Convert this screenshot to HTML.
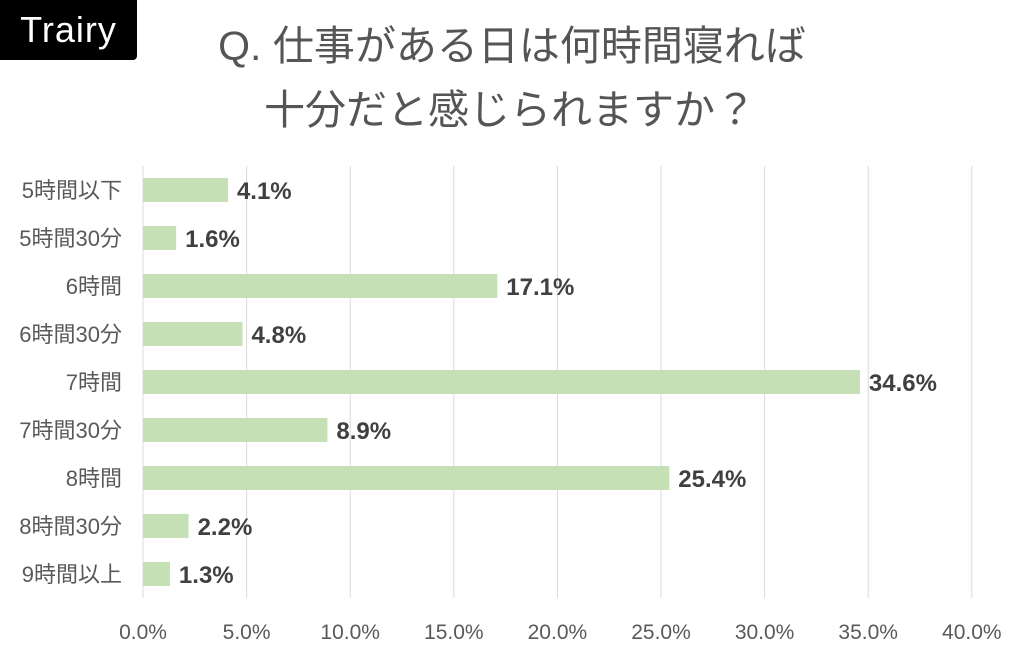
<!DOCTYPE html>
<html><head><meta charset="utf-8">
<style>
body{margin:0;background:#fff;width:1024px;height:657px;overflow:hidden;font-family:"Liberation Sans","Noto Sans CJK JP",sans-serif;}
#logo{position:absolute;left:0;top:0;width:137px;height:60px;background:#000;border-radius:0 0 4px 0;color:#fff;font-size:36px;line-height:60px;text-align:center;letter-spacing:1px;}
.t{position:absolute;left:0;width:1024px;text-align:center;color:#555;font-size:41px;line-height:48px;}
</style></head><body>
<div id="logo">Trairy</div>
<div class="t" style="top:22px;left:0">Q. 仕事がある日は何時間寝れば</div>
<div class="t" style="top:86px;left:-2px">十分だと感じられますか？</div>
<svg id="chart" width="1024" height="657" style="position:absolute;left:0;top:0"></svg>
<script>
const categories=["5時間以下","5時間30分","6時間","6時間30分","7時間","7時間30分","8時間","8時間30分","9時間以上"];
const values=[4.1,1.6,17.1,4.8,34.6,8.9,25.4,2.2,1.3];
const ticks=[0,5,10,15,20,25,30,35,40];
const NS="http://www.w3.org/2000/svg";
const svg=document.getElementById('chart');
const x0=143,pxPer=20.72,yTop=166,yBot=598,rowH=48,barH=24;
function xs(v){return x0+v*pxPer;}
function ys(i){return yTop+rowH*i+rowH/2;}
function mk(t,a,txt){const e=document.createElementNS(NS,t);for(const k in a)e.setAttribute(k,a[k]);if(txt!=null)e.textContent=txt;svg.appendChild(e);return e;}
ticks.forEach(t=>{
 const g=mk('line',{x1:xs(t),x2:xs(t),y1:yTop,y2:yBot,stroke:'#d9d9d9','stroke-width':1});
 
 
 const l=mk('text',{x:xs(t),y:639,'text-anchor':'middle','font-size':21,fill:'#595959','font-family':'Liberation Sans, sans-serif'},t.toFixed(1)+'%');
 
 
});
categories.forEach((c,i)=>{
 const y=ys(i);
 const b=mk('rect',{x:xs(0),y:y-barH/2,width:xs(values[i])-xs(0),height:barH,fill:'#c5e0b4'});
 
 
 const l=mk('text',{x:122,y:y+8,'text-anchor':'end','font-size':22,fill:'#595959','font-family':'Liberation Sans, Noto Sans CJK JP, sans-serif'},c);
 
 
 const v=mk('text',{x:xs(values[i])+9,y:y+9,'font-size':24,'font-weight':'bold',fill:'#404040','font-family':'Liberation Sans, sans-serif'},values[i].toFixed(1)+'%');
 
 
});
</script>
</body></html>
